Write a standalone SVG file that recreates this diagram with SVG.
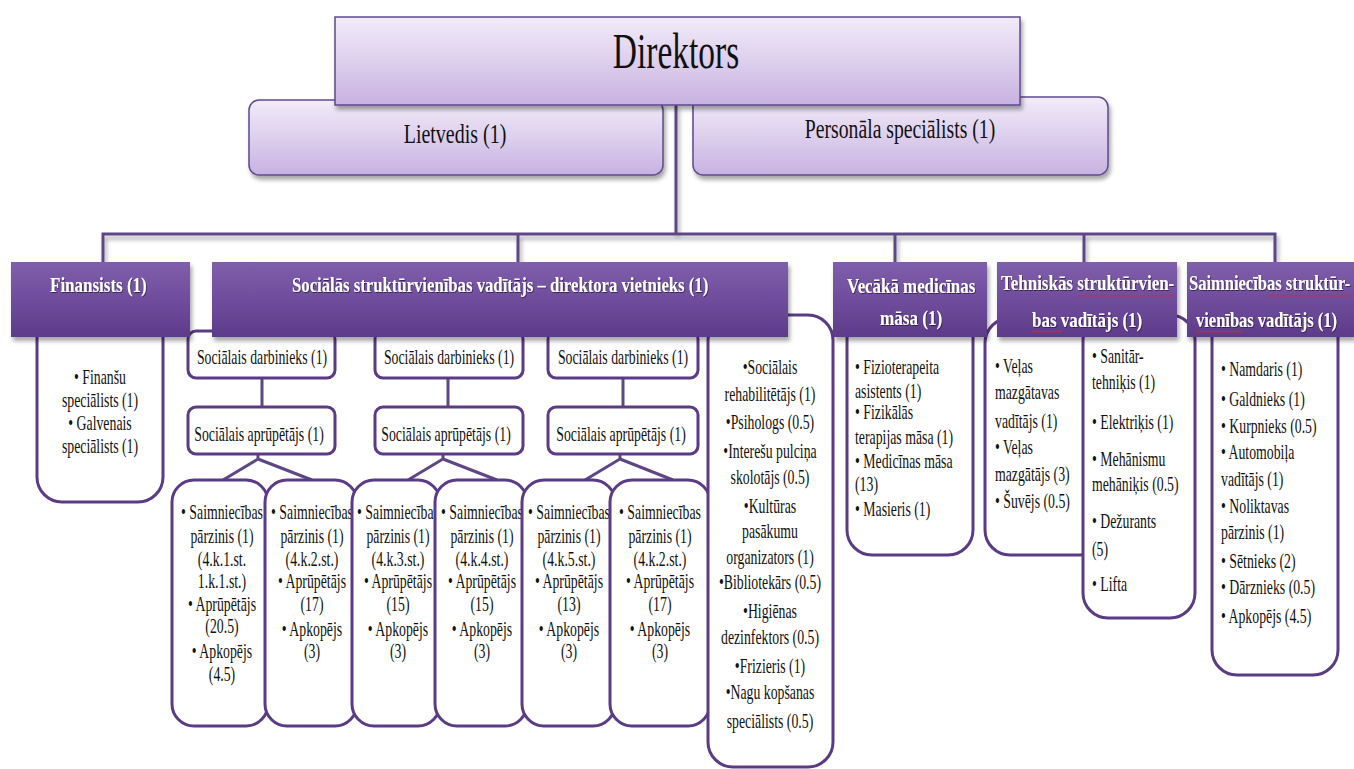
<svg xmlns="http://www.w3.org/2000/svg" width="1354" height="769" viewBox="0 0 1354 769">
<defs>
<linearGradient id="lg" x1="0" y1="0" x2="0" y2="1">
<stop offset="0" stop-color="#f2ecf9"/><stop offset="1" stop-color="#c8b2e1"/>
</linearGradient>
<linearGradient id="hg" x1="0" y1="0" x2="0" y2="1">
<stop offset="0" stop-color="#7f5fab"/><stop offset="0.5" stop-color="#6f4d9c"/><stop offset="1" stop-color="#5d3b8a"/>
</linearGradient>
<filter id="sh" x="-10%" y="-20%" width="120%" height="150%">
<feDropShadow dx="2" dy="4" stdDeviation="2" flood-color="#000" flood-opacity="0.35"/>
</filter>
<filter id="tsh" x="-2%" y="-5%" width="104%" height="115%">
<feDropShadow dx="1" dy="1" stdDeviation="0.6" flood-color="#2a1545" flood-opacity="0.8"/>
</filter>
<pattern id="wave" width="4" height="3" patternUnits="userSpaceOnUse">
<path d="M0 2.4 L1 0.6 L3 2.4 L4 0.6" stroke="#e02424" stroke-width="0.8" fill="none"/>
</pattern>
</defs>
<style>
.t{font-family:"Liberation Serif","Times New Roman",serif;font-size:20px;fill:#111}
.c{text-anchor:middle}
.h{font-family:"Liberation Serif","Times New Roman",serif;font-size:22px;font-weight:bold;fill:#fff;filter:url(#tsh)}
.box{fill:#fff;stroke:#5b3b85;stroke-width:3}
.hdr{fill:url(#hg);filter:url(#sh)}
.top{fill:url(#lg);stroke:#5e4a8c;stroke-width:1.5;filter:url(#sh)}
.conn{stroke:#5e4687;stroke-width:3;fill:none}
</style>
<rect width="1354" height="769" fill="#fff"/>

<!-- connectors -->
<g id="connectors">
<path class="conn" d="M676 105 V234 M103 262 V234 H1275 V262 M518 234 V262 M895 234 V262 M1084 234 V262" filter="url(#sh)"/>
<path class="conn" d="M262 378 V407 M448 378 V407 M623 378 V407"/>
<path class="conn" d="M258 454 V459 L223 480 M258 459 L312 480 M443 454 V459 L408 480 M443 459 L497 480 M620 454 V459 L585 480 M620 459 L673 480"/>
</g>

<!-- top -->
<g id="lietvedis">
<rect class="top" x="249" y="100" width="414" height="75" rx="10"/>
<text class="t c" transform="translate(455 0) scale(.74 1)" x="0" y="143" style="font-size:27px">Lietvedis (1)</text>
</g>
<g id="personala">
<rect class="top" x="693" y="97" width="415" height="78" rx="10"/>
<text class="t c" transform="translate(900 0) scale(.73 1)" x="0" y="138" style="font-size:27px">Personāla speciālists (1)</text>
</g>
<g id="direktors">
<rect class="top" x="335" y="17" width="685" height="88"/>
<text class="t c" transform="translate(676 0) scale(.67 1)" x="0" y="68" style="font-size:50px">Direktors</text>
</g>

<!-- content boxes -->
<g id="finansists-list">
<rect class="box" x="37" y="300" width="126" height="202" rx="25"/>
<g transform="translate(100 0) scale(.69 1)">
<text class="t c" x="0" y="384">• Finanšu</text>
<text class="t c" x="0" y="407">speciālists (1)</text>
<text class="t c" x="0" y="430">• Galvenais</text>
<text class="t c" x="0" y="453">speciālists (1)</text>
</g>
</g>

<g id="darbinieks1"><rect class="box" x="188" y="331" width="147" height="47" rx="8"/>
<text class="t c" transform="translate(262 0) scale(.69 1)" x="0" y="364">Sociālais darbinieks (1)</text></g>
<g id="darbinieks2"><rect class="box" x="375" y="331" width="148" height="47" rx="8"/>
<text class="t c" transform="translate(449 0) scale(.69 1)" x="0" y="364">Sociālais darbinieks (1)</text></g>
<g id="darbinieks3"><rect class="box" x="548" y="331" width="150" height="47" rx="8"/>
<text class="t c" transform="translate(623 0) scale(.69 1)" x="0" y="364">Sociālais darbinieks (1)</text></g>

<g id="aprupetajs1"><rect class="box" x="188" y="407" width="147" height="47" rx="8"/>
<text class="t c" transform="translate(259 0) scale(.69 1)" x="0" y="441">Sociālais aprūpētājs (1)</text></g>
<g id="aprupetajs2"><rect class="box" x="375" y="407" width="148" height="47" rx="8"/>
<text class="t c" transform="translate(446 0) scale(.69 1)" x="0" y="441">Sociālais aprūpētājs (1)</text></g>
<g id="aprupetajs3"><rect class="box" x="548" y="407" width="150" height="47" rx="8"/>
<text class="t c" transform="translate(621 0) scale(.69 1)" x="0" y="441">Sociālais aprūpētājs (1)</text></g>

<g id="nodA"><rect class="box" x="172" y="480" width="96" height="246" rx="22"/>
<g transform="translate(222 0) scale(.69 1)">
<text class="t c" x="0" y="519">• Saimniecības</text>
<text class="t c" x="0" y="543">pārzinis (1)</text>
<text class="t c" x="0" y="566">(4.k.1.st.</text>
<text class="t c" x="0" y="588">1.k.1.st.)</text>
<text class="t c" x="0" y="611">• Aprūpētājs</text>
<text class="t c" x="0" y="633">(20.5)</text>
<text class="t c" x="0" y="658">• Apkopējs</text>
<text class="t c" x="0" y="681">(4.5)</text>
</g></g>
<g id="nodB"><rect class="box" x="265" y="480" width="92" height="246" rx="22"/>
<g transform="translate(312 0) scale(.69 1)">
<text class="t c" x="0" y="519">• Saimniecības</text>
<text class="t c" x="0" y="543">pārzinis (1)</text>
<text class="t c" x="0" y="566">(4.k.2.st.)</text>
<text class="t c" x="0" y="588">• Aprūpētājs</text>
<text class="t c" x="0" y="611">(17)</text>
<text class="t c" x="0" y="636">• Apkopējs</text>
<text class="t c" x="0" y="658">(3)</text>
</g></g>
<g id="nodC"><rect class="box" x="352" y="480" width="88" height="246" rx="22"/>
<g transform="translate(398 0) scale(.69 1)">
<text class="t c" x="0" y="519">• Saimniecības</text>
<text class="t c" x="0" y="543">pārzinis (1)</text>
<text class="t c" x="0" y="566">(4.k.3.st.)</text>
<text class="t c" x="0" y="588">• Aprūpētājs</text>
<text class="t c" x="0" y="611">(15)</text>
<text class="t c" x="0" y="636">• Apkopējs</text>
<text class="t c" x="0" y="658">(3)</text>
</g></g>
<g id="nodD"><rect class="box" x="435" y="480" width="92" height="246" rx="22"/>
<g transform="translate(482 0) scale(.69 1)">
<text class="t c" x="0" y="519">• Saimniecības</text>
<text class="t c" x="0" y="543">pārzinis (1)</text>
<text class="t c" x="0" y="566">(4.k.4.st.)</text>
<text class="t c" x="0" y="588">• Aprūpētājs</text>
<text class="t c" x="0" y="611">(15)</text>
<text class="t c" x="0" y="636">• Apkopējs</text>
<text class="t c" x="0" y="658">(3)</text>
</g></g>
<g id="nodE"><rect class="box" x="522" y="480" width="93" height="246" rx="22"/>
<g transform="translate(569 0) scale(.69 1)">
<text class="t c" x="0" y="519">• Saimniecības</text>
<text class="t c" x="0" y="543">pārzinis (1)</text>
<text class="t c" x="0" y="566">(4.k.5.st.)</text>
<text class="t c" x="0" y="588">• Aprūpētājs</text>
<text class="t c" x="0" y="611">(13)</text>
<text class="t c" x="0" y="636">• Apkopējs</text>
<text class="t c" x="0" y="658">(3)</text>
</g></g>
<g id="nodF"><rect class="box" x="610" y="480" width="100" height="246" rx="22"/>
<g transform="translate(660 0) scale(.69 1)">
<text class="t c" x="0" y="519">• Saimniecības</text>
<text class="t c" x="0" y="543">pārzinis (1)</text>
<text class="t c" x="0" y="566">(4.k.2.st.)</text>
<text class="t c" x="0" y="588">• Aprūpētājs</text>
<text class="t c" x="0" y="611">(17)</text>
<text class="t c" x="0" y="636">• Apkopējs</text>
<text class="t c" x="0" y="658">(3)</text>
</g></g>

<g id="socialie-specialisti"><rect class="box" x="708" y="315" width="125" height="452" rx="25"/>
<g transform="translate(770 0) scale(.69 1)">
<text class="t c" x="0" y="374">•Sociālais</text>
<text class="t c" x="0" y="401">rehabilitētājs (1)</text>
<text class="t c" x="0" y="429">•Psihologs (0.5)</text>
<text class="t c" x="0" y="458">•Interešu pulciņa</text>
<text class="t c" x="0" y="484">skolotājs (0.5)</text>
<text class="t c" x="0" y="513">•Kultūras</text>
<text class="t c" x="0" y="538">pasākumu</text>
<text class="t c" x="0" y="564">organizators (1)</text>
<text class="t c" x="0" y="589">•Bibliotekārs (0.5)</text>
<text class="t c" x="0" y="618">•Higiēnas</text>
<text class="t c" x="0" y="644">dezinfektors (0.5)</text>
<text class="t c" x="0" y="673">•Frizieris (1)</text>
<text class="t c" x="0" y="699">•Nagu kopšanas</text>
<text class="t c" x="0" y="728">speciālists (0.5)</text>
</g></g>

<g id="mediciniskais-list"><rect class="box" x="847" y="305" width="126" height="250" rx="25"/>
<g transform="translate(855 0) scale(.69 1)">
<text class="t" x="0" y="374">• Fizioterapeita</text>
<text class="t" x="0" y="398">asistents (1)</text>
<text class="t" x="0" y="419">• Fizikālās</text>
<text class="t" x="0" y="444">terapijas māsa (1)</text>
<text class="t" x="0" y="468">• Medicīnas māsa</text>
<text class="t" x="0" y="491">(13)</text>
<text class="t" x="0" y="516">• Masieris (1)</text>
</g></g>

<g id="tehniskais-list1"><rect class="box" x="985" y="318" width="120" height="237" rx="25"/>
<g transform="translate(995 0) scale(.69 1)">
<text class="t" x="0" y="373">• Veļas</text>
<text class="t" x="0" y="399">mazgātavas</text>
<text class="t" x="0" y="428">vadītājs (1)</text>
<text class="t" x="0" y="454">• Veļas</text>
<text class="t" x="0" y="481">mazgātājs (3)</text>
<text class="t" x="0" y="508">• Šuvējs (0.5)</text>
</g></g>
<g id="tehniskais-list2"><rect class="box" x="1083" y="315" width="112" height="303" rx="25"/>
<g transform="translate(1092 0) scale(.69 1)">
<text class="t" x="0" y="363">• Sanitār-</text>
<text class="t" x="0" y="389">tehniķis (1)</text>
<text class="t" x="0" y="429">• Elektriķis (1)</text>
<text class="t" x="0" y="466">• Mehānismu</text>
<text class="t" x="0" y="491">mehāniķis (0.5)</text>
<text class="t" x="0" y="528">• Dežurants</text>
<text class="t" x="0" y="556">(5)</text>
<text class="t" x="0" y="591">• Lifta</text>
</g></g>

<g id="saimniecibas-list"><rect class="box" x="1212" y="305" width="126" height="370" rx="25"/>
<g transform="translate(1221 0) scale(.69 1)">
<text class="t" x="0" y="376">• Namdaris (1)</text>
<text class="t" x="0" y="406">• Galdnieks (1)</text>
<text class="t" x="0" y="433">• Kurpnieks (0.5)</text>
<text class="t" x="0" y="459">• Automobiļa</text>
<text class="t" x="0" y="486">vadītājs (1)</text>
<text class="t" x="0" y="513">• Noliktavas</text>
<text class="t" x="0" y="539">pārzinis (1)</text>
<text class="t" x="0" y="568">• Sētnieks (2)</text>
<text class="t" x="0" y="594">• Dārznieks (0.5)</text>
<text class="t" x="0" y="623">• Apkopējs (4.5)</text>
</g></g>

<!-- headers -->
<g id="finansists"><rect class="hdr" x="11" y="262" width="179" height="75"/>
<text class="h" transform="translate(50 0) scale(.75 1)" x="0" y="292" textLength="129" lengthAdjust="spacingAndGlyphs">Finansists (1)</text></g>
<g id="socialas-vaditajs"><rect class="hdr" x="212" y="262" width="576" height="75"/>
<text class="h" transform="translate(292 0) scale(.75 1)" x="0" y="292" textLength="555" lengthAdjust="spacingAndGlyphs">Sociālās struktūrvienības vadītājs – direktora vietnieks (1)</text></g>
<g id="vecaka-masa"><rect class="hdr" x="833" y="262" width="154" height="75"/>
<text class="h" transform="translate(847 0) scale(.75 1)" x="0" y="293" textLength="171" lengthAdjust="spacingAndGlyphs">Vecākā medicīnas</text>
<text class="h" transform="translate(880 0) scale(.75 1)" x="0" y="325" textLength="83" lengthAdjust="spacingAndGlyphs">māsa (1)</text></g>
<g id="tehniskas-vaditajs"><rect class="hdr" x="997" y="262" width="180" height="75"/>
<text class="h" transform="translate(1001 0) scale(.75 1)" x="0" y="290" textLength="231" lengthAdjust="spacingAndGlyphs">Tehniskās  struktūrvien-</text>
<text class="h" transform="translate(1032 0) scale(.75 1)" x="0" y="327" textLength="147" lengthAdjust="spacingAndGlyphs">bas vadītājs (1)</text>
<rect x="1078" y="294" width="96" height="3" fill="url(#wave)"/>
<rect x="1032" y="330" width="30" height="3" fill="url(#wave)"/></g>
<g id="saimniecibas-vaditajs"><rect class="hdr" x="1187" y="262" width="167" height="75"/>
<text class="h" transform="translate(1189 0) scale(.75 1)" x="0" y="290" textLength="215" lengthAdjust="spacingAndGlyphs">Saimniecības struktūr-</text>
<text class="h" transform="translate(1196 0) scale(.75 1)" x="0" y="327" textLength="188" lengthAdjust="spacingAndGlyphs">vienības vadītājs (1)</text>
<rect x="1267" y="294" width="82" height="3" fill="url(#wave)"/>
<rect x="1196" y="330" width="47" height="3" fill="url(#wave)"/></g>
</svg>
